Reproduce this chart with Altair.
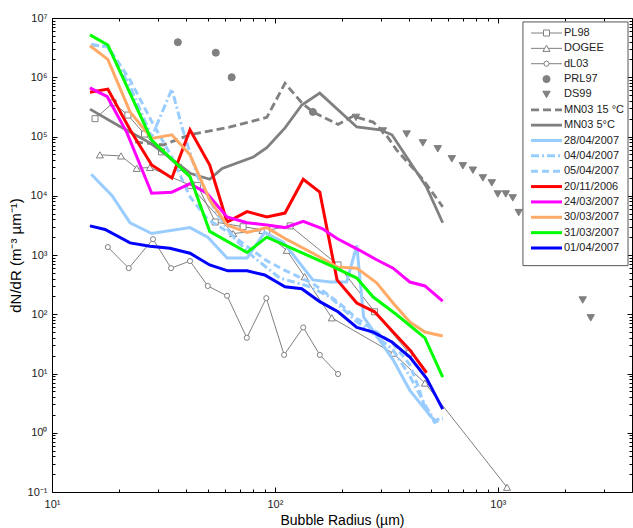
import altair as alt
import pandas as pd

# ---------------- data ----------------
PL98_X = [15.6, 18.8, 21.9, 26.0, 31.0, 37.0, 45.0, 54.0, 72.0, 92.0, 117.0, 192.0, 280.0, 400.0]
PL98_Y = [2.0e5, 3.7e5, 2.3e5, 1.1e5, 5.5e4, 3.0e4, 1.5e4, 3.6e3, 3.0e3, 2.6e3, 3.1e3, 680, 110, 22]

DOGEE_X = [16.4, 20.4, 24.0, 27.5, 41.6, 65.0, 88.0, 113.0, 136.0, 180.0, 339.0, 471.0, 1100.0]
DOGEE_Y = [4.9e4, 4.7e4, 2.9e4, 3.0e4, 1.5e4, 2.3e3, 2.6e3, 1.2e3, 430, 87, 22, 6.9, 0.12]

DL03_X = [17.8, 22.1, 28.4, 34.2, 41.6, 50.0, 61.0, 74.8, 91.5, 110.0, 134.0, 159.0, 192.0]
DL03_Y = [1360, 600, 1850, 600, 790, 300, 205, 40, 187, 20.6, 60, 20.6, 9.8]

PRL97_X = [36.7, 54.3, 64.0, 148.0]
PRL97_Y = [3.9e6, 2.6e6, 1.0e6, 2.6e5]

DS99_X = [231, 305, 390, 461, 538, 622, 697, 773, 857, 940, 1000, 1086, 1167, 1241, 1675, 1730, 2404, 2612]
DS99_Y = [2.1e5, 1.24e5, 1.1e5, 7.8e4, 6.2e4, 4.2e4, 3.2e4, 2.7e4, 2.0e4, 1.65e4, 1.07e4, 1.07e4,
          9.2e3, 5.2e3, 2.6e3, 1.55e3, 174, 87]

MN15_X = [23.6, 31.5, 41.6, 63, 92, 111, 132, 148, 192, 224, 276, 311, 352, 461, 566]
MN15_Y = [8.1e4, 7.2e4, 1.07e5, 1.45e5, 2.1e5, 7.9e5, 3.7e5, 2.6e5, 1.6e5, 2.2e5, 1.75e5, 1.15e5, 5.9e4, 1.9e4, 6.5e3]

MN5_X = [14.8, 20, 27.5, 35, 41.6, 51, 58, 80, 92, 111, 132, 159, 233, 296, 335, 390, 479, 566]
MN5_Y = [2.9e5, 1.5e5, 7.8e4, 4.0e4, 2.4e4, 1.9e4, 2.9e4, 4.5e4, 6.5e4, 1.4e5, 3.4e5, 5.4e5, 1.45e5,
         1.3e5, 1.07e5, 4.5e4, 1.4e4, 3.5e3]

D2804_X = [15, 18.6, 22.4, 28, 41.6, 50, 61, 75, 90, 109, 148, 177, 210, 233, 250, 339, 403, 471, 520]
D2804_Y = [2.3e4, 1.0e4, 3.5e3, 2.3e3, 2.9e3, 2.0e3, 890, 890, 2.4e3, 1.65e3, 380, 350, 350, 1.45e3,
           90, 17, 5.2, 2.5, 1.6]

D0404_X = [15, 17.8, 22.4, 28, 34.5, 38.6, 45, 55, 65, 80, 105, 140, 177, 233, 280, 339, 403, 471, 520, 566]
D0404_Y = [3.6e6, 3.2e6, 7e5, 9.8e4, 6.3e5, 1.3e5, 2.1e4, 5e3, 2e3, 930, 410, 300, 195, 75, 45, 25, 9, 3,
           1.6, 1.8]

D0504_X = [15, 17.8, 22.4, 28, 34.5, 41.6, 50, 61, 75, 92, 111, 148, 192, 233, 276, 339, 403, 440, 471, 520, 566]
D0504_Y = [3.5e6, 3.3e6, 9e5, 1.8e5, 4.5e4, 9.6e3, 4e3, 2.5e3, 1.4e3, 800, 550, 330, 160, 85, 55, 32, 14,
           6, 2.6, 1.5, 1.7]

D2011_X = [14.8, 17.8, 22.4, 28, 34.5, 41.6, 51, 61, 75, 92, 111, 134, 159, 190, 233, 280, 339, 403, 479]
D2011_Y = [5.6e5, 6.3e5, 1.3e5, 3.3e4, 2.0e4, 1.3e5, 3.3e4, 3.6e3, 5.4e3, 4.4e3, 5.1e3, 1.9e4, 1.15e4,
           380, 155, 110, 50, 25, 10.3]

D2403_X = [14.8, 17.7, 21.7, 28, 34.5, 41.6, 49.5, 61, 75, 92, 111, 134, 163, 190, 240, 286, 339, 403, 471, 566]
D2403_Y = [6.6e5, 4.7e5, 1.15e5, 1.1e4, 1.15e4, 1.6e4, 1.1e4, 4.4e3, 3.5e3, 3.2e3, 2.9e3, 3.7e3, 2.8e3,
           1.9e3, 1.2e3, 830, 600, 350, 300, 166]

D3003_X = [14.8, 17.8, 22.4, 28, 34.5, 41.6, 51, 61, 75, 92, 111, 148, 190, 233, 286, 339, 403, 471, 566]
D3003_Y = [3.4e6, 2.0e6, 2.6e5, 9.3e4, 1.07e5, 4.9e4, 8.5e3, 3.2e3, 2.4e3, 2.9e3, 1.9e3, 1.07e3, 630,
           600, 340, 155, 74, 50, 43]

D3103_X = [14.8, 17.8, 28, 41.6, 51, 75, 92, 180, 233, 276, 352, 471, 566]
D3103_Y = [5.2e6, 3.5e6, 8.7e4, 2.1e4, 2.5e3, 1.1e3, 2.0e3, 650, 408, 195, 98, 40, 8.7]

D0104_X = [14.8, 17.3, 22.4, 27.5, 33.8, 41.6, 51, 61.5, 75, 90, 111, 132, 159, 192, 233, 276, 335, 403, 479, 566]
D0104_Y = [3.1e3, 2.7e3, 1.6e3, 1.4e3, 1.3e3, 1.07e3, 680, 540, 540, 460, 290, 270, 163, 110, 60, 50, 34,
           19, 8.3, 2.5]

SERIES_NAMES = ["PL98", "DOGEE", "dL03", "PRL97", "DS99", "MN03 15 \u00b0C", "MN03 5\u00b0C",
                "28/04/2007", "04/04/2007", "05/04/2007", "20/11/2006", "24/03/2007",
                "30/03/2007", "31/03/2007", "01/04/2007"]
SERIES_DATA = [(PL98_X, PL98_Y), (DOGEE_X, DOGEE_Y), (DL03_X, DL03_Y), (PRL97_X, PRL97_Y),
               (DS99_X, DS99_Y), (MN15_X, MN15_Y), (MN5_X, MN5_Y), (D2804_X, D2804_Y),
               (D0404_X, D0404_Y), (D0504_X, D0504_Y), (D2011_X, D2011_Y), (D2403_X, D2403_Y),
               (D3003_X, D3003_Y), (D3103_X, D3103_Y), (D0104_X, D0104_Y)]

X_TICKS = [10, 20, 30, 40, 50, 60, 70, 80, 90, 100, 200, 300, 400, 500, 600, 700, 800, 900,
           1000, 2000, 3000]
Y_TICKS = [m * 10.0 ** e for e in range(-1, 7) for m in range(1, 10)] + [1e7]

# ---------------- styles ----------------
GRAY = "#808080"
LB = "#99ccff"
FONT = "Liberation Sans"
STYLE = {
    "PL98": dict(line=dict(color=GRAY, strokeWidth=1), marker=dict(shape="square", size=36, fill="white", stroke=GRAY)),
    "DOGEE": dict(line=dict(color=GRAY, strokeWidth=1), marker=dict(shape="triangle-up", size=50, fill="white", stroke=GRAY)),
    "dL03": dict(line=dict(color=GRAY, strokeWidth=1), marker=dict(shape="circle", size=26, fill="white", stroke=GRAY)),
    "PRL97": dict(line=None, marker=dict(shape="circle", size=50, fill=GRAY, stroke=GRAY)),
    "DS99": dict(line=None, marker=dict(shape="triangle-down", size=55, fill=GRAY, stroke=GRAY)),
    "MN03 15 \u00b0C": dict(line=dict(color=GRAY, strokeWidth=2.8, strokeDash=[8, 4]), marker=None),
    "MN03 5\u00b0C": dict(line=dict(color=GRAY, strokeWidth=2.8), marker=None),
    "28/04/2007": dict(line=dict(color=LB, strokeWidth=3), marker=None),
    "04/04/2007": dict(line=dict(color=LB, strokeWidth=3, strokeDash=[8, 3, 2, 3]), marker=None),
    "05/04/2007": dict(line=dict(color=LB, strokeWidth=3, strokeDash=[7, 4]), marker=None),
    "20/11/2006": dict(line=dict(color="#ff0000", strokeWidth=3), marker=None),
    "24/03/2007": dict(line=dict(color="#ff00ff", strokeWidth=3), marker=None),
    "30/03/2007": dict(line=dict(color="#ffaa66", strokeWidth=3), marker=None),
    "31/03/2007": dict(line=dict(color="#00ff00", strokeWidth=3), marker=None),
    "01/04/2007": dict(line=dict(color="#0000ff", strokeWidth=3), marker=None),
}

rows = []
for name, (xs, ys) in zip(SERIES_NAMES, SERIES_DATA):
    for i, (a, b) in enumerate(zip(xs, ys)):
        rows.append({"series": name, "x": a, "y": b, "i": i})
df = pd.DataFrame(rows)

xscale = alt.Scale(type="log", domain=[10, 4000], nice=False)
yscale = alt.Scale(type="log", domain=[0.1, 1e7], nice=False)

MAJ = "abs(log(datum.value)/LN10 - round(log(datum.value)/LN10)) < 0.0001"
TICK = {"expr": MAJ + " ? -5 : -3"}
SUP = {-1: "\u207b\u00b9", 0: "\u2070", 1: "\u00b9", 2: "\u00b2", 3: "\u00b3", 4: "\u2074",
       5: "\u2075", 6: "\u2076", 7: "\u2077"}
LBL = " : ".join(f"abs(datum.value - {10.0 ** e!r}) < {10.0 ** e * 1e-6!r} ? '10{SUP[e]}'"
                 for e in range(-1, 8)) + " : ''"

common_axis = dict(tickSize=TICK, tickColor="#000", domainColor="#000", grid=False,
                   labelFont=FONT, labelFontSize=11, labelColor="#222", labelOverlap=False,
                   labelFlush=False, titleFont=FONT, titleFontWeight="normal",
                   titleColor="#000")

axis_bottom = alt.Axis(orient="bottom", values=X_TICKS, labelExpr=LBL, labelPadding=11,
                       title="Bubble Radius (\u00b5m)", titlePadding=2, titleFontSize=14, **common_axis)
axis_left = alt.Axis(orient="left", values=Y_TICKS, labelExpr=LBL, labelPadding=10,
                     title="dN/dR (m\u207b\u00b3 \u00b5m\u207b\u00b9)", titlePadding=4, titleFontSize=15,
                     **common_axis)
axis_top = alt.Axis(orient="top", values=X_TICKS, labels=False, title=None, **common_axis)
axis_right = alt.Axis(orient="right", values=Y_TICKS, labels=False, title=None, **common_axis)

ax1 = alt.Chart(df).mark_point(opacity=0).encode(
    x=alt.X("x:Q", scale=xscale, axis=axis_bottom),
    y=alt.Y("y:Q", scale=yscale, axis=axis_left))
ax2 = alt.Chart(df).mark_point(opacity=0).encode(
    x=alt.X("x:Q", scale=xscale, axis=axis_top),
    y=alt.Y("y:Q", scale=yscale, axis=axis_right))

layers = [ax1, ax2]
for name in SERIES_NAMES:
    st = STYLE[name]
    base = alt.Chart(df).transform_filter(alt.datum.series == name)
    enc = dict(x=alt.X("x:Q", scale=xscale, axis=None), y=alt.Y("y:Q", scale=yscale, axis=None),
               order="i:Q")
    if st["line"]:
        layers.append(base.mark_line(clip=True, **st["line"]).encode(**enc))
    if st["marker"]:
        m = st["marker"]
        layers.append(base.mark_point(filled=True, shape=m["shape"], size=m["size"], fill=m["fill"],
                                      stroke=m["stroke"], strokeWidth=1, opacity=1, clip=True)
                      .encode(x=enc["x"], y=enc["y"]))

plot = alt.layer(*layers).resolve_axis(x="independent", y="independent")

# ---------------- legend (inside the plot, top right) ----------------
leg_df = pd.DataFrame({"name": SERIES_NAMES, "idx": list(range(len(SERIES_NAMES)))})
box_df = pd.DataFrame({"x0": [-0.26], "x1": [3.13], "y0": [-0.72], "y1": [15.15]})
lx = alt.Scale(domain=[0, 1], range=[479, 510], nice=False, zero=False)
ly = alt.Scale(domain=[0, 14], range=[15, 230], nice=False, zero=False)

leg_layers = [alt.Chart(box_df).mark_rect(fill="white", stroke="#555555", strokeWidth=1).encode(
    x=alt.X("x0:Q", scale=lx, axis=None), x2="x1:Q",
    y=alt.Y("y0:Q", scale=ly, axis=None), y2="y1:Q")]
for i, name in enumerate(SERIES_NAMES):
    st = STYLE[name]
    b = alt.Chart(leg_df).transform_filter(alt.datum.idx == i)
    yenc = alt.Y("idx:Q", scale=ly, axis=None)
    if st["line"]:
        leg_layers.append(b.mark_rule(**st["line"]).encode(
            x=alt.X(datum=0, type="quantitative", scale=lx, axis=None), x2=alt.X2(datum=1), y=yenc))
    if st["marker"]:
        m = st["marker"]
        leg_layers.append(b.mark_point(filled=True, shape=m["shape"], size=m["size"], fill=m["fill"],
                                       stroke=m["stroke"], strokeWidth=1, opacity=1).encode(
            x=alt.X(datum=0.5, type="quantitative", scale=lx, axis=None), y=yenc))
leg_layers.append(alt.Chart(leg_df).mark_text(align="left", baseline="middle", dx=2, font=FONT,
                                              fontSize=11, color="#222222").encode(
    x=alt.X(datum=1, type="quantitative", scale=lx, axis=None),
    y=alt.Y("idx:Q", scale=ly, axis=None), text="name:N"))
legend = alt.layer(*leg_layers)

chart = alt.layer(plot, legend).resolve_scale(x="independent", y="independent").properties(
    width=580, height=474,
    padding={"left": 52, "top": 18, "right": 1, "bottom": 36},
    autosize=alt.AutoSizeParams(type="none"),
    background="white",
).configure_view(stroke=None)

chart.save("out.html", embed_options={"renderer": "svg", "actions": False})
